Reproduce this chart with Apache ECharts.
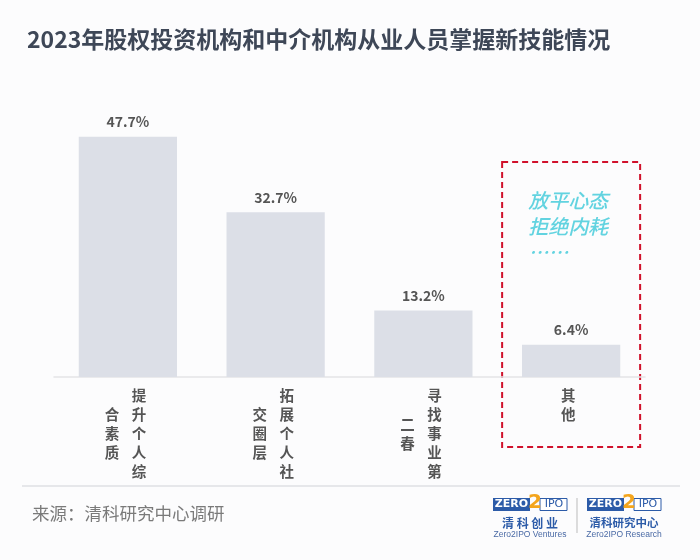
<!DOCTYPE html>
<html><head><meta charset="utf-8">
<script src="https://cdn.jsdelivr.net/npm/echarts@6/dist/echarts.min.js"></script>
<style>html,body{margin:0;padding:0;background:#fcfcfd}#c{width:700px;height:560px}</style>
</head><body><div id="c"></div>
<script>
const categories = ['提升个人综合素质', '拓展个人社交圈层', '寻找事业第二春', '其他'];
const values = [47.7, 32.7, 13.2, 6.4];
const titleText = '2023年股权投资机构和中介机构从业人员掌握新技能情况';
const sourceText = '来源：清科研究中心调研';
const noteLines = ['放平心态', '拒绝内耗', '……'];
const highlightCategory = '其他';

const FONT = '"Noto Sans CJK SC", "Noto Sans", sans-serif';
const COL = 5;
const LH = 19;

function rightCol(s) {
  const chars = s.slice(0, COL).split('');
  const style = s.length > COL ? 'r' : 'c';
  return chars.map(ch => '{' + style + '|' + ch + '}').join('\n');
}
function leftCol(s) {
  const rest = s.slice(COL).split('');
  if (!rest.length) return '';
  const sp = rest.length === 3 ? 's1' : 's2';
  return '{' + sp + '| }\n' + rest.map(ch => '{l|' + ch + '}').join('\n');
}
const lblBase = { fontFamily: FONT, fontSize: 14.5, fontWeight: 'bold', color: '#555', lineHeight: LH };

const chart = echarts.init(document.getElementById('c'));
chart.setOption({
  backgroundColor: '#fcfcfd',
  animation: false,
  title: {
    text: titleText, left: 22, top: 23,
    textStyle: { fontFamily: FONT, fontSize: 23, fontWeight: 'bold', color: '#3e4757' }
  },
  grid: { left: 54, right: 55, top: 100, bottom: 183 },
  xAxis: [{
    type: 'category', data: categories, position: 'bottom',
    axisLine: { lineStyle: { color: '#e4e4e6', width: 1.5 } },
    axisTick: { show: false },
    axisLabel: {
      margin: 9, interval: 0, formatter: rightCol,
      rich: {
        r: Object.assign({ padding: [0, 0, 0, 22] }, lblBase),
        c: Object.assign({ padding: [0, 6, 0, 0] }, lblBase)
      }
    }
  }, {
    type: 'category', data: categories, position: 'bottom',
    axisLine: { show: false }, axisTick: { show: false },
    axisLabel: {
      margin: 9, interval: 0, formatter: leftCol,
      rich: {
        l: Object.assign({ padding: [0, 32, 0, 0] }, lblBase),
        s1: { fontSize: 4, lineHeight: LH, height: LH },
        s2: { fontSize: 4, lineHeight: LH * 1.5, height: LH * 1.5 }
      }
    }
  }],
  yAxis: { type: 'value', min: 0, max: 55, show: false, splitLine: { show: false } },
  series: [{
    type: 'bar', data: values, xAxisIndex: 0, barCategoryGap: '33.5%',
    itemStyle: { color: '#dcdfe7' },
    label: {
      show: true, position: 'top', distance: 8,
      formatter: p => p.value.toFixed(1) + '%',
      fontFamily: FONT, fontSize: 14, fontWeight: 'bold', color: '#555'
    }
  }]
});

const cx = chart.convertToPixel({ xAxisIndex: 0 }, highlightCategory);
const blue = '#2c5ba8';
function logo(x, name, en, spaced) {
  return {
    type: 'group', x: x, y: 498,
    children: [
      { type: 'rect', shape: { x: 0, y: 0, width: 37, height: 13 }, style: { fill: blue } },
      { type: 'text', x: 18.5, y: 6.5, style: { text: 'ZERO', fill: '#fff', font: 'bold 11px "DejaVu Sans", sans-serif', align: 'center', verticalAlign: 'middle' } },
      { type: 'rect', shape: { x: 47, y: 0.5, width: 27, height: 12 }, style: { fill: '#fff', stroke: blue, lineWidth: 1 } },
      { type: 'text', x: 61, y: 6.5, style: { text: 'IPO', fill: blue, font: '11px "DejaVu Sans", sans-serif', align: 'center', verticalAlign: 'middle' } },
      { type: 'text', x: 42, y: 5, style: { text: '2', fill: '#f4a51c', font: 'bold 20px "DejaVu Sans", sans-serif', align: 'center', verticalAlign: 'middle' } },
      { type: 'text', x: 37, y: 25, style: { text: name, fill: blue, font: 'bold ' + (spaced ? 12 : 11.5) + 'px ' + FONT, align: 'center', verticalAlign: 'middle' } },
      { type: 'text', x: 37, y: 37, style: { text: en, fill: '#4a6aa5', font: '8.5px "Liberation Sans", sans-serif', align: 'center', verticalAlign: 'middle' } }
    ]
  };
}
chart.setOption({
  graphic: [
    { type: 'rect', shape: { x: cx - 69, y: 162, width: 138, height: 285 },
      style: { fill: 'none', stroke: '#d0112b', lineWidth: 2, lineDash: [6, 4] } },
    { type: 'text', x: cx - 43, y: 187,
      style: { text: noteLines.join('\n'), fill: '#62d3e0', font: 'italic 500 20px ' + FONT, lineHeight: 26 } },
    { type: 'line', shape: { x1: 22, y1: 486, x2: 680, y2: 486 }, style: { stroke: '#e6e7ea', lineWidth: 2 } },
    { type: 'text', x: 32, y: 513,
      style: { text: sourceText, fill: '#7a7a7a', font: '17.5px ' + FONT, verticalAlign: 'middle' } },
    logo(493, '清 科 创 业', 'Zero2IPO Ventures', true),
    { type: 'line', shape: { x1: 577, y1: 498, x2: 577, y2: 533 }, style: { stroke: '#bbb', lineWidth: 1 } },
    logo(587, '清科研究中心', 'Zero2IPO Research', false)
  ]
});
</script></body></html>
